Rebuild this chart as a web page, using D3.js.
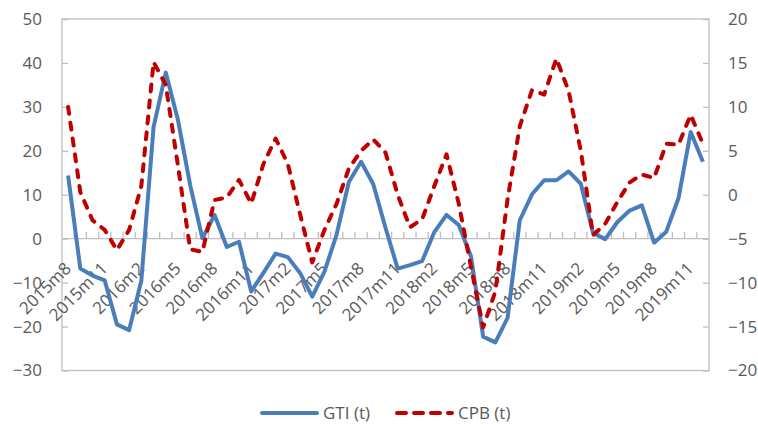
<!DOCTYPE html>
<html>
<head>
<meta charset="utf-8">
<script src="https://cdn.jsdelivr.net/npm/d3@7"></script>
<style>
  html, body { margin: 0; padding: 0; background: #fff; }
  #chart { width: 758px; height: 425px; }
  text { font-family: "Open Sans", "Noto Sans", sans-serif; fill: #595959; }
</style>
</head>
<body>
<div id="chart"></div>
<script>
const months = [
  "2015m8", "2015m9", "2015m10", "2015m11", "2015m12",
  "2016m1", "2016m2", "2016m3", "2016m4", "2016m5", "2016m6", "2016m7",
  "2016m8", "2016m9", "2016m10", "2016m11", "2016m12",
  "2017m1", "2017m2", "2017m3", "2017m4", "2017m5", "2017m6", "2017m7",
  "2017m8", "2017m9", "2017m10", "2017m11", "2017m12",
  "2018m1", "2018m2", "2018m3", "2018m4", "2018m5", "2018m6", "2018m7",
  "2018m8", "2018m9", "2018m10", "2018m11", "2018m12",
  "2019m1", "2019m2", "2019m3", "2019m4", "2019m5", "2019m6", "2019m7",
  "2019m8", "2019m9", "2019m10", "2019m11", "2019m12"
];

// GTI (t), left axis
const gti = [
  14.4, -6.8, -8.4, -9.5, -19.5, -20.8, -9.5, 25.4, 37.8, 27.0,
  12.2, 0.1, 5.4, -1.9, -0.7, -12.0, -7.8, -3.4, -4.2, -7.8,
  -13.2, -7.5, 1.0, 12.9, 17.5, 12.4, 2.5, -6.8, -6.0, -5.1,
  1.5, 5.4, 3.1, -4.0, -22.3, -23.6, -18.0, 4.2, 10.1, 13.3,
  13.3, 15.3, 12.5, 1.3, -0.1, 3.8, 6.4, 7.6, -0.9, 1.6,
  9.2, 24.3, 17.5
];

// CPB (t), right axis
const cpb = [
  10.0, 0.3, -2.9, -4.0, -6.3, -4.0, 1.0, 15.1, 12.5, 3.3,
  -6.2, -6.5, -0.6, -0.3, 1.7, -1.0, 3.5, 6.4, 3.5, -2.2,
  -7.7, -4.0, -1.0, 3.0, 5.0, 6.3, 4.8, 0.0, -3.7, -2.8,
  1.0, 4.6, -1.0, -8.2, -15.1, -11.0, -0.5, 7.8, 11.9, 11.4,
  15.5, 11.8, 5.0, -4.6, -3.3, -0.8, 1.4, 2.3, 1.9, 5.8,
  5.7, 9.1, 5.8
];

const leftTicks = [-30, -20, -10, 0, 10, 20, 30, 40, 50];
const rightTicks = [-20, -15, -10, -5, 0, 5, 10, 15, 20];
const seriesNames = ["GTI (t)", "CPB (t)"];

const width = 758, height = 425;
const margin = { top: 19, right: 49, bottom: 54.5, left: 62 };
const plotW = width - margin.left - margin.right;
const plotH = height - margin.top - margin.bottom;

const gridColor = "#bfbfbf";
const blue = "#4a7ebb";
const red = "#c00000";
const fontSize = 17;

const svg = d3.select("#chart").append("svg")
  .attr("width", width)
  .attr("height", height)
  .attr("viewBox", `0 0 ${width} ${height}`);

const g = svg.append("g")
  .attr("transform", `translate(${margin.left},${margin.top})`);

const x = d3.scaleBand().domain(months).range([0, plotW]).padding(0);
const yL = d3.scaleLinear().domain([-30, 50]).range([plotH, 0]);
const yR = d3.scaleLinear().domain([-20, 20]).range([plotH, 0]);
const cx = d => x(d) + x.bandwidth() / 2;

// plot frame
g.append("rect")
  .attr("x", 0).attr("y", 0)
  .attr("width", plotW).attr("height", plotH)
  .attr("fill", "none")
  .attr("stroke", gridColor)
  .attr("stroke-width", 1.3);

// left axis
const leftAxis = g.append("g")
  .call(d3.axisRight(yL).tickValues(leftTicks).tickSize(6).tickFormat(d3.format("d")));
leftAxis.select(".domain").remove();
leftAxis.selectAll("line").attr("stroke", gridColor).attr("stroke-width", 1.3);
leftAxis.selectAll("text")
  .attr("x", -20)
  .attr("text-anchor", "end")
  .style("font-size", fontSize + "px");

// right axis
const rightAxis = g.append("g")
  .attr("transform", `translate(${plotW},0)`)
  .call(d3.axisLeft(yR).tickValues(rightTicks).tickSize(6).tickFormat(d3.format("d")));
rightAxis.select(".domain").remove();
rightAxis.selectAll("line").attr("stroke", gridColor).attr("stroke-width", 1.3);
rightAxis.selectAll("text")
  .attr("x", 19)
  .attr("text-anchor", "start")
  .style("font-size", fontSize + "px");

// category axis on the zero line
const zeroY = yL(0);
const xAxis = g.append("g").attr("transform", `translate(0,${zeroY})`);
xAxis.append("line")
  .attr("x1", 0).attr("x2", plotW)
  .attr("stroke", gridColor).attr("stroke-width", 1.3);
xAxis.selectAll(".tick-mark")
  .data(months.slice(1))
  .enter().append("line")
  .attr("class", "tick-mark")
  .attr("x1", d => x(d)).attr("x2", d => x(d))
  .attr("y1", 0).attr("y2", -7)
  .attr("stroke", gridColor).attr("stroke-width", 1.3);
xAxis.selectAll(".xlabel")
  .data(months.filter((d, i) => i % 3 === 0))
  .enter().append("text")
  .attr("class", "xlabel")
  .attr("text-anchor", "end")
  .style("font-size", fontSize + "px")
  .attr("transform", d => `translate(${cx(d) + 4},${31}) rotate(-45)`)
  .text(d => d);

// lines
const lineL = d3.line().x((d, i) => cx(months[i])).y(d => yL(d));
const lineR = d3.line().x((d, i) => cx(months[i])).y(d => yR(d));

g.append("path")
  .datum(gti)
  .attr("fill", "none")
  .attr("stroke", blue)
  .attr("stroke-width", 4)
  .attr("stroke-linejoin", "round")
  .attr("d", lineL);

g.append("path")
  .datum(cpb)
  .attr("fill", "none")
  .attr("stroke", red)
  .attr("stroke-width", 4)
  .attr("stroke-linejoin", "round")
  .attr("stroke-linecap", "round")
  .attr("stroke-dasharray", "7,9")
  .attr("d", lineR);

// legend
const legend = svg.append("g").attr("transform", "translate(0,413)");
const legendItems = [
  { name: seriesNames[0], color: blue, dash: null, x: 262 },
  { name: seriesNames[1], color: red, dash: "9,8", x: 397 }
];
legendItems.forEach(item => {
  const l = legend.append("line")
    .attr("x1", item.x).attr("x2", item.x + 55)
    .attr("y1", 0).attr("y2", 0)
    .attr("stroke", item.color)
    .attr("stroke-width", 4)
    .attr("stroke-linecap", "round");
  if (item.dash) l.attr("stroke-dasharray", item.dash);
  legend.append("text")
    .attr("x", item.x + 61)
    .attr("y", 0)
    .attr("dy", "0.35em")
    .style("font-size", fontSize + "px")
    .text(item.name);
});
</script>
</body>
</html>
